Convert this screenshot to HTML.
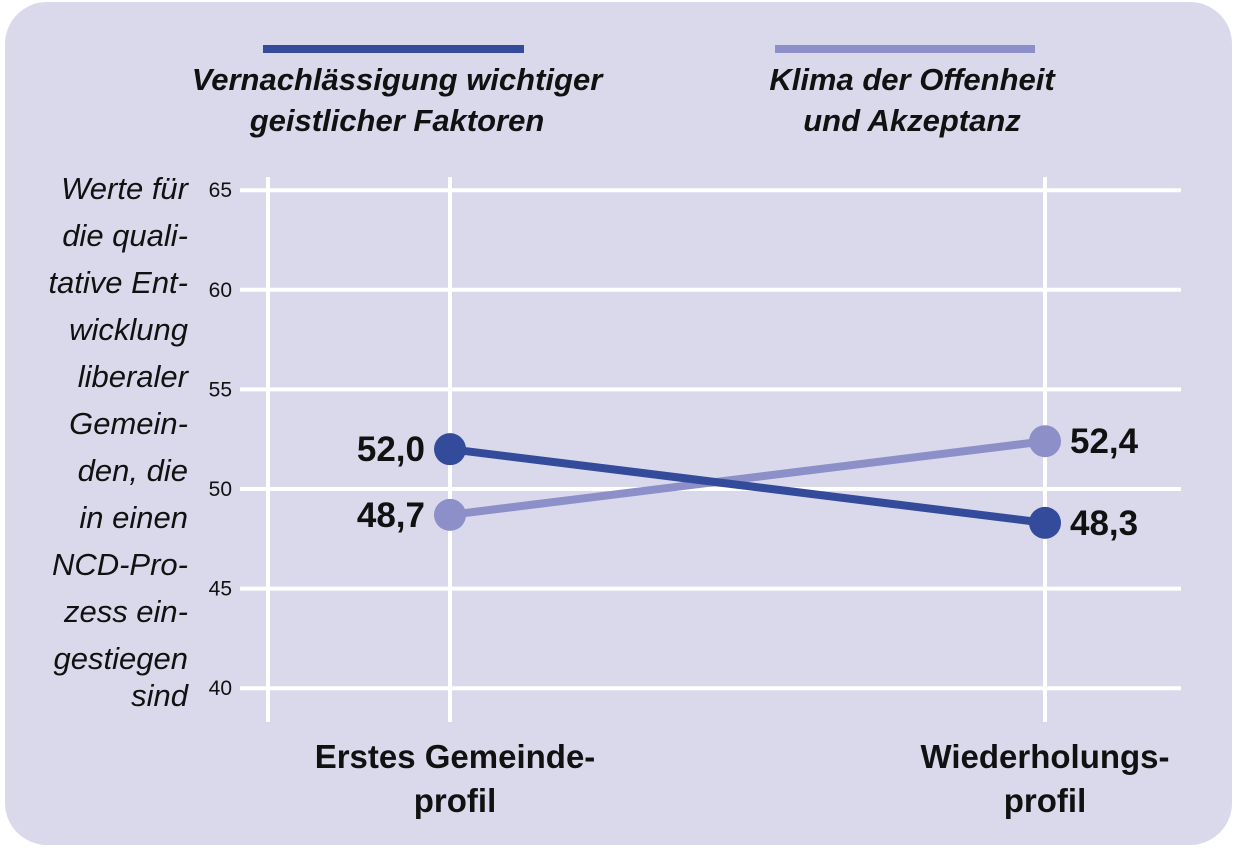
<!DOCTYPE html>
<html><head><meta charset="utf-8"><style>
html,body{margin:0;padding:0;background:#fff;}
svg{display:block;font-family:"Liberation Sans",sans-serif;}
</style></head><body>
<svg id="chart" width="1237" height="848">
<rect x="5" y="2" width="1227" height="843" rx="42" fill="#d9d9eb"/>
<g id="grid"></g>
<g id="series"></g>
<g id="labels"></g>
<g font-style="italic" font-weight="bold" font-size="31" fill="#111" text-anchor="middle">
<line x1="263" y1="49" x2="524" y2="49" stroke="#344a9a" stroke-width="8"/>
<text x="397" y="90">Vernachlässigung wichtiger</text>
<text x="397" y="131">geistlicher Faktoren</text>
<line x1="775" y1="49" x2="1035" y2="49" stroke="#8c8fc8" stroke-width="8"/>
<text x="912" y="90">Klima der Offenheit</text>
<text x="912" y="131">und Akzeptanz</text>
</g>
<g font-style="italic" font-size="31" fill="#111" text-anchor="end">
<text x="188" y="199">Werte für</text><text x="188" y="246">die quali-</text><text x="188" y="293">tative Ent-</text><text x="188" y="340">wicklung</text><text x="188" y="387">liberaler</text><text x="188" y="434">Gemein-</text><text x="188" y="481">den, die</text><text x="188" y="528">in einen</text><text x="188" y="575">NCD-Pro-</text><text x="188" y="622">zess ein-</text><text x="188" y="669">gestiegen</text><text x="188" y="706">sind</text>
</g>
<g font-weight="bold" font-size="33" fill="#111" text-anchor="middle">
<text x="455" y="768">Erstes Gemeinde-</text>
<text x="455" y="812">profil</text>
<text x="1045" y="768">Wiederholungs-</text>
<text x="1045" y="812">profil</text>
</g>
</svg>
<script>
const categories = ["Erstes Gemeindeprofil", "Wiederholungsprofil"];
const seriesNames = ["Vernachlässigung wichtiger geistlicher Faktoren", "Klima der Offenheit und Akzeptanz"];
const vernachlaessigung = [52.0, 48.3];
const klima = [48.7, 52.4];
const yTicks = [40, 45, 50, 55, 60, 65];

const NS = "http://www.w3.org/2000/svg";
const xPos = [450, 1045];
function x(i){ return xPos[i]; }
function y(v){ return 489 - (v - 50) * 19.92; }
function mk(tag, attrs, parent){ const e = document.createElementNS(NS, tag); for (const k in attrs) e.setAttribute(k, attrs[k]); parent.appendChild(e); return e; }
const grid = document.getElementById("grid");
const series = document.getElementById("series");
const labels = document.getElementById("labels");

yTicks.forEach(t => {
  const l = mk("line", {x1:240, x2:1181, y1:y(t), y2:y(t), stroke:"#fff", "stroke-width":4}, grid);
  
  
  const tx = mk("text", {x:232, y:y(t)+7, "text-anchor":"end", "font-size":21, fill:"#111"}, grid);
  tx.textContent = t;
  
  
});
[268, 450, 1045].forEach((vx, i) => {
  const l = mk("line", {x1:vx, x2:vx, y1:177, y2:722, stroke:"#fff", "stroke-width":4}, grid);
  
  
});

function fmt(v){ return v.toFixed(1).replace(".", ","); }
function drawSeries(vals, color, key, labelSides){
  const ln = mk("line", {x1:x(0), y1:y(vals[0]), x2:x(1), y2:y(vals[1]), stroke:color, "stroke-width":8}, series);
  
  
  vals.forEach((v, i) => {
    const c = mk("circle", {cx:x(i), cy:y(v), r:16, fill:color}, series);
    
    
    const left = labelSides[i] === "left";
    const t = mk("text", {x: left ? x(i) - 25 : x(i) + 25, y: y(v) + 12, "text-anchor": left ? "end" : "start", "font-size":35, "font-weight":"bold", fill:"#111"}, labels);
    t.textContent = fmt(v);
    
    
  });
}
drawSeries(klima, "#8c8fc8", "klima", ["left", "right"]);
drawSeries(vernachlaessigung, "#344a9a", "vernachlaessigung", ["left", "right"]);
</script>
</body></html>
